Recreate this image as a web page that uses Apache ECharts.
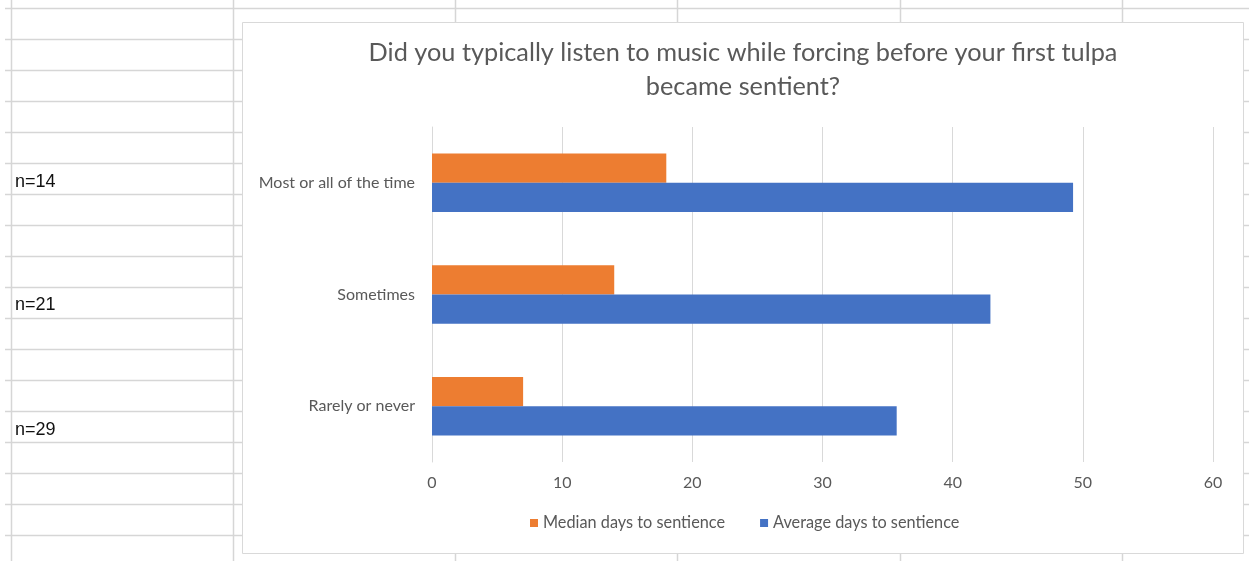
<!DOCTYPE html>
<html>
<head>
<meta charset="utf-8">
<script src="https://cdn.jsdelivr.net/npm/echarts@6/dist/echarts.min.js"></script>
<style>
html,body{margin:0;padding:0;background:#fff;}
#chart{width:1249px;height:561px;}
</style>
</head>
<body>
<div id="chart"></div>
<script>
const titleText = 'Did you typically listen to music while forcing before your first tulpa\nbecame sentient?';
const categories = ['Rarely or never', 'Sometimes', 'Most or all of the time'];
const seriesNames = ['Median days to sentience', 'Average days to sentience'];
const medianDays = [7, 14, 18];
const averageDays = [35.7, 42.9, 49.25];
const sampleLabels = ['n=14', 'n=21', 'n=29'];
const sampleLabelY = [182, 305, 430];

const chart = echarts.init(document.getElementById('chart'));

// spreadsheet background (decoration)
const bg = [];
const colX = [11, 233, 455, 677, 900, 1122];
const lineColor = '#d6d6d6';
for (let y = 8; y < 561; y += 31) {
  bg.push({type: 'line', z: -20, shape: {x1: 5, y1: y + 0.5, x2: 1249, y2: y + 0.5}, style: {stroke: lineColor, lineWidth: 1.5}});
}
colX.forEach(x => {
  bg.push({type: 'line', z: -20, shape: {x1: x + 0.5, y1: 0, x2: x + 0.5, y2: 561}, style: {stroke: lineColor, lineWidth: 1.5}});
});
bg.push({type: 'rect', z: -10, shape: {x: 242.5, y: 22.5, width: 1001, height: 531}, style: {fill: '#fff', stroke: '#d9d9d9', lineWidth: 1}});
sampleLabels.forEach((t, i) => {
  bg.push({type: 'text', z: -5, style: {text: t, x: 15, y: sampleLabelY[i], textVerticalAlign: 'middle', font: '18px "Liberation Sans", Arial, sans-serif', fill: '#111'}});
});

chart.setOption({
  animation: false,
  graphic: {elements: bg},
  title: {
    text: titleText,
    left: 743,
    top: 36,
    textAlign: 'center',
    padding: 0,
    textStyle: {fontFamily: 'Lato', fontWeight: 'normal', fontSize: 25.3, color: '#595959', lineHeight: 34}
  },
  legend: {
    data: seriesNames,
    left: 530,
    top: 515,
    padding: 0,
    icon: 'rect',
    itemWidth: 8,
    itemHeight: 8,
    itemGap: 35,
    textStyle: {fontFamily: 'Lato', fontSize: 16.3, color: '#595959'}
  },
  grid: {left: 432, right: 36, top: 127, bottom: 99},
  xAxis: {
    type: 'value',
    min: 0,
    max: 60,
    interval: 10,
    axisLine: {show: false},
    axisTick: {show: false},
    splitLine: {lineStyle: {color: '#d9d9d9', width: 1}},
    axisLabel: {color: '#595959', fontFamily: 'Lato', fontSize: 16, margin: 13}
  },
  yAxis: {
    type: 'category',
    data: categories,
    axisLine: {show: true, lineStyle: {color: '#d9d9d9'}},
    axisTick: {show: false},
    axisLabel: {color: '#595959', fontFamily: 'Lato', fontSize: 16, margin: 17}
  },
  series: [
    {name: seriesNames[0], type: 'bar', data: medianDays, barGap: '0%', barCategoryGap: '47.6%', itemStyle: {color: '#ED7D31'}},
    {name: seriesNames[1], type: 'bar', data: averageDays, barGap: '0%', barCategoryGap: '47.6%', itemStyle: {color: '#4472C4'}}
  ]
});
</script>
</body>
</html>
